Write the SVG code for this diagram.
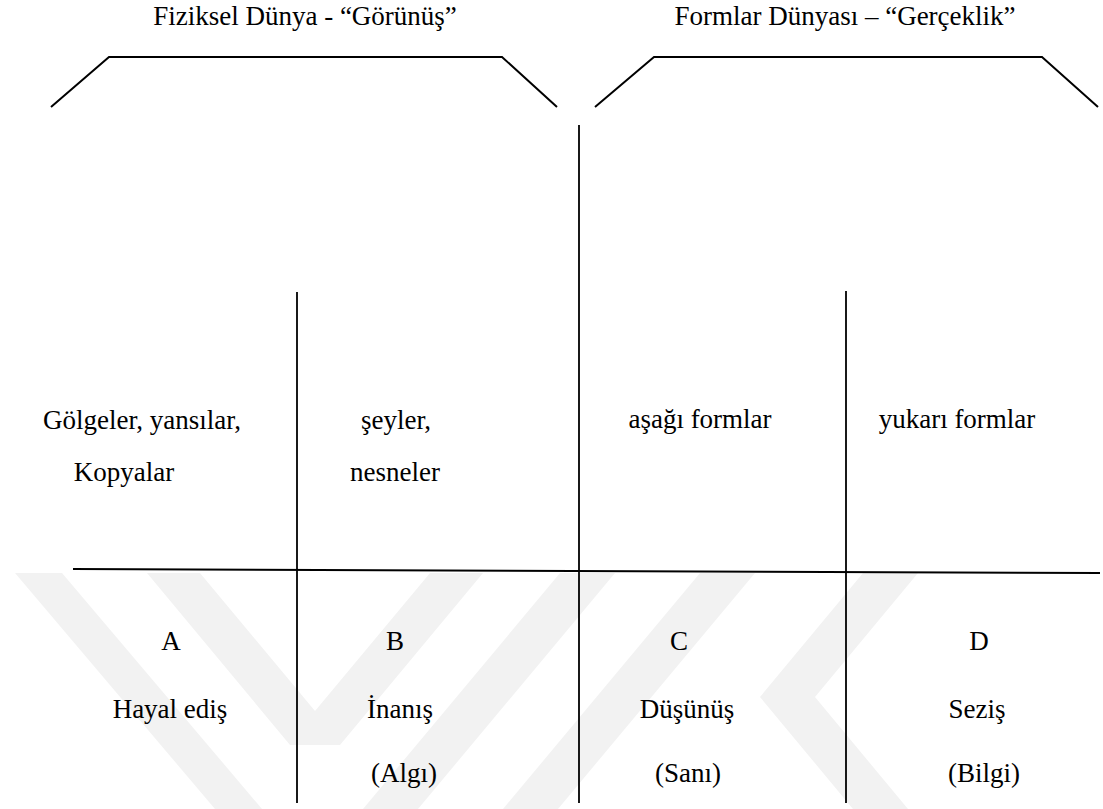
<svg xmlns="http://www.w3.org/2000/svg" width="1103" height="809" viewBox="0 0 1103 809">
<style>
  .t { font-family: "Liberation Serif", Tinos, "Times New Roman", "DejaVu Serif", serif; font-size: 27px; fill: #000; text-anchor: middle; }
  .ln { stroke: #000; fill: none; stroke-width: 2; }
  .thin { stroke: #000; fill: none; stroke-width: 1.8; }
  .wm { fill: #f2f2f2; stroke: none; }
</style>
<rect x="0" y="0" width="1103" height="809" fill="#ffffff"/>
<g id="watermark">
  <polygon class="wm" points="15,573 62,573 262,809 215,809"/>
  <polygon class="wm" points="147,573 200,573 315,711 430,573 483,573 340,745 290,745"/>
  <polygon class="wm" points="560,573 615,573 418,809 363,809"/>
  <polygon class="wm" points="700,573 755,573 558,809 503,809"/>
  <polygon class="wm" points="863,573 918,573 815,697 908,809 853,809 760,697"/>
</g>
<g id="connectors">
  <polyline class="ln" points="51,107 109,57 502,57 557,107"/>
  <polyline class="ln" points="595,107 654,57 1042,57 1098,107"/>
  <line class="thin" x1="579" y1="125" x2="579" y2="803"/>
  <line class="thin" x1="297" y1="292" x2="297" y2="803"/>
  <line class="thin" x1="846" y1="291" x2="846" y2="803"/>
  <line class="ln" x1="73" y1="569" x2="1100" y2="573" stroke-width="2.4"/>
</g>
<g id="title-physical">
  <text class="t" x="305" y="25">Fiziksel Dünya - “Görünüş”</text>
</g>
<g id="title-forms">
  <text class="t" x="845" y="25">Formlar Dünyası – “Gerçeklik”</text>
</g>
<g id="cell-a">
  <text class="t" x="142" y="429">Gölgeler, yansılar,</text>
  <text class="t" x="124" y="481">Kopyalar</text>
  <text class="t" x="171" y="650">A</text>
  <text class="t" x="170" y="718">Hayal ediş</text>
</g>
<g id="cell-b">
  <text class="t" x="396" y="429">şeyler,</text>
  <text class="t" x="395" y="481">nesneler</text>
  <text class="t" x="395" y="650">B</text>
  <text class="t" x="400" y="718">İnanış</text>
  <text class="t" x="404" y="782">(Algı)</text>
</g>
<g id="cell-c">
  <text class="t" x="700" y="428">aşağı formlar</text>
  <text class="t" x="679" y="650">C</text>
  <text class="t" x="687" y="718">Düşünüş</text>
  <text class="t" x="688" y="782">(Sanı)</text>
</g>
<g id="cell-d">
  <text class="t" x="957" y="428">yukarı formlar</text>
  <text class="t" x="979" y="650">D</text>
  <text class="t" x="977" y="718">Seziş</text>
  <text class="t" x="984" y="782">(Bilgi)</text>
</g>
</svg>
